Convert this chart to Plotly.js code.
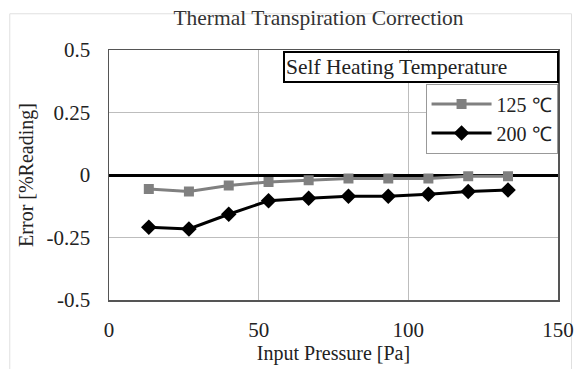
<!DOCTYPE html>
<html><head><meta charset="utf-8">
<script src="https://cdn.plot.ly/plotly-3.0.1.min.js"></script>
<style>html,body{margin:0;padding:0;background:#fff}#chart{width:576px;height:369px}</style>
</head><body><div id="chart"></div>
<script>
var pressure = [13.3, 26.7, 40.0, 53.3, 66.7, 80.0, 93.3, 106.7, 120.0, 133.3];
var err125 = [-0.056, -0.066, -0.042, -0.028, -0.021, -0.014, -0.014, -0.014, -0.005, -0.005];
var err200 = [-0.209, -0.216, -0.157, -0.103, -0.093, -0.085, -0.085, -0.077, -0.066, -0.060];
var seriesNames = ['125 ℃', '200 ℃'];
var yTickVals = [-0.5, -0.25, 0, 0.25, 0.5];
var yTickText = ['-0.5', '-0.25', '0', '0.25', '0.5'];
var xTickVals = [0, 50, 100, 150];
var xTickText = ['0', '50', '100', '150'];

var font = "'Liberation Serif', 'Times New Roman', serif";
var traces = [
  {x: pressure, y: err125, name: seriesNames[0], mode: 'lines+markers', type: 'scatter',
   line: {color: '#808080', width: 3}, marker: {symbol: 'square', size: 10, color: '#808080'}},
  {x: pressure, y: err200, name: seriesNames[1], mode: 'lines+markers', type: 'scatter',
   line: {color: '#000000', width: 3}, marker: {symbol: 'diamond', size: 12, color: '#000000'}}
];
var layout = {
  width: 576, height: 369,
  margin: {l: 109, r: 18, t: 50, b: 69},
  paper_bgcolor: '#fff', plot_bgcolor: '#fff',
  font: {family: font, color: '#222', size: 20},
  title: {text: 'Thermal Transpiration Correction', font: {family: font, size: 21.5, color: '#333'}, x: 0.553, xanchor: 'center', y: 0.952, yanchor: 'middle'},
  xaxis: {range: [0, 150], tickmode: 'array', tickvals: xTickVals, ticktext: xTickText, showgrid: true, gridcolor: '#bdbdbd', gridwidth: 1,
    zeroline: false, showline: true, linecolor: '#555', linewidth: 1.5, mirror: true, ticks: '',
    ticklabelstandoff: 10,
    tickfont: {family: font, size: 21, color: '#222'},
    title: {text: 'Input Pressure [Pa]', font: {family: font, size: 20, color: '#222'}, standoff: 0}},
  yaxis: {range: [-0.5, 0.5], tickmode: 'array', tickvals: yTickVals, ticktext: yTickText, showgrid: true, gridcolor: '#bdbdbd', gridwidth: 1,
    zeroline: true, zerolinecolor: '#000', zerolinewidth: 3, showline: true, linecolor: '#555', linewidth: 1.5, mirror: true, ticks: '',
    ticklabelstandoff: 13,
    tickfont: {family: font, size: 21, color: '#222'},
    title: {text: 'Error [%Reading]', font: {family: font, size: 20, color: '#222'}, standoff: 7}},
  showlegend: true,
  legend: {x: 0.999, xanchor: 'right', y: 0.866, yanchor: 'top', bgcolor: '#fff', bordercolor: '#999', borderwidth: 1,
    font: {family: font, size: 20, color: '#222'}, itemwidth: 60},
  annotations: [
    {xref: 'paper', yref: 'paper', x: 1.002, xanchor: 'right', y: 0.996, yanchor: 'top',
     text: 'Self Heating Temperature', showarrow: false, align: 'left',
     font: {family: font, size: 21.5, color: '#222'}, bgcolor: '#fff', bordercolor: '#000', borderwidth: 2,
     width: 270, height: 26, borderpad: 1}
  ],
  shapes: [
    {type: 'rect', xref: 'paper', yref: 'paper', x0: -0.221, x1: 1.03, y0: -0.3, y1: 1.145,
     line: {color: '#e0e0e0', width: 1}, fillcolor: 'rgba(0,0,0,0)', layer: 'below'}
  ]
};
Plotly.newPlot('chart', traces, layout, {displayModeBar: false, staticPlot: true});
</script></body></html>
